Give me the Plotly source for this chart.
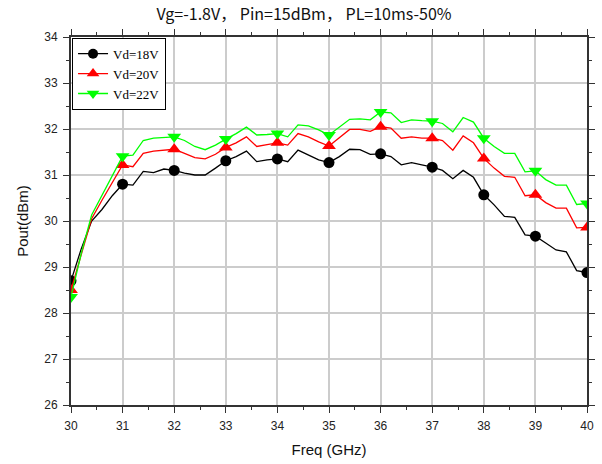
import plotly.graph_objects as go

freq = [round(30 + 0.2 * i, 1) for i in range(51)]

pout_18v = [28.70, 29.40, 30.00, 30.25, 30.55, 30.80, 30.78, 31.08, 31.05, 31.13,
            31.10, 31.04, 31.00, 31.00, 31.15, 31.31, 31.40, 31.52, 31.29, 31.33,
            31.35, 31.29, 31.54, 31.43, 31.33, 31.27, 31.40, 31.56, 31.55, 31.45,
            31.46, 31.40, 31.22, 31.27, 31.22, 31.17, 31.10, 30.92, 31.10, 30.95,
            30.57, 30.35, 30.10, 30.08, 29.70, 29.67, 29.52, 29.37, 29.33, 28.92,
            28.88]

pout_20v = [28.50, 29.30, 30.05, 30.45, 30.85, 31.22, 31.18, 31.47, 31.52, 31.54,
            31.56, 31.47, 31.38, 31.35, 31.45, 31.60, 31.70, 31.83, 31.62, 31.66,
            31.70, 31.65, 31.90, 31.83, 31.72, 31.63, 31.80, 31.99, 31.99, 31.95,
            32.05, 32.02, 31.80, 31.83, 31.80, 31.80, 31.75, 31.54, 31.85, 31.70,
            31.36, 31.15, 30.97, 30.95, 30.55, 30.57, 30.40, 30.28, 30.28, 29.85,
            29.86]

pout_22v = [28.35, 29.30, 30.13, 30.55, 31.00, 31.41, 31.43, 31.75, 31.80, 31.82,
            31.83, 31.75, 31.62, 31.55, 31.65, 31.78, 31.90, 32.04, 31.87, 31.88,
            31.90, 31.83, 32.09, 32.07, 31.98, 31.87, 32.05, 32.21, 32.22, 32.20,
            32.37, 32.35, 32.14, 32.20, 32.18, 32.17, 32.12, 31.94, 32.25, 32.15,
            31.80, 31.62, 31.47, 31.47, 31.07, 31.09, 30.90, 30.78, 30.78, 30.36,
            30.38]

series_names = ["Vd=18V", "Vd=20V", "Vd=22V"]
x_ticks = list(range(30, 41))
y_ticks = list(range(26, 35))

title_text = "Vg=-1.8V， Pin=15dBm， PL=10ms-50%"

styles = [
    dict(color="#000000", symbol="circle", size=11),
    dict(color="#ff0000", symbol="triangle-up", size=12),
    dict(color="#00ff00", symbol="triangle-down", size=12),
]

fig = go.Figure()
for name, ys, st in zip(series_names, [pout_18v, pout_20v, pout_22v], styles):
    sizes = [st["size"] if abs(f - round(f)) < 1e-6 else 0 for f in freq]
    fig.add_trace(go.Scatter(
        x=freq, y=ys, name=name, mode="lines+markers", showlegend=False,
        legendgroup=name,
        line=dict(color=st["color"], width=1.3),
        marker=dict(color=st["color"], symbol=st["symbol"], size=sizes,
                    opacity=1, line=dict(width=0)),
    ))
    # legend entry
    fig.add_trace(go.Scatter(
        x=[None], y=[None], name=name, mode="lines+markers", legendgroup=name,
        line=dict(color=st["color"], width=1.3),
        marker=dict(color=st["color"], symbol=st["symbol"], size=st["size"] - 1,
                    opacity=1, line=dict(width=0)),
    ))

tick_font = dict(family="Liberation Sans, Arial", size=12, color="#222222")
title_font = dict(family="Liberation Sans, Arial", size=15, color="#111111")
minor_cfg = dict(ticks="outside", ticklen=3, tickcolor="#333333", showgrid=False, dtick=0.5)

axis_common = dict(
    showline=True, linecolor="#333333", linewidth=2, mirror="allticks",
    ticks="outside", ticklen=6, tickwidth=1.2, tickcolor="#333333",
    showgrid=True, gridcolor="#cccccc", gridwidth=1.5,
    zeroline=False, tickfont=tick_font, minor=minor_cfg, automargin=False,
)

fig.update_layout(
    width=602, height=464,
    margin=dict(l=71, r=15, t=37, b=59),
    paper_bgcolor="white", plot_bgcolor="white",
    title=dict(text=title_text, x=0.505, xanchor="center", y=0.97, yanchor="middle",
               font=dict(family="Noto Sans CJK SC, Noto Sans", size=16, color="#111111")),
    xaxis=dict(range=[30, 40], tickvals=x_ticks, ticklabelstandoff=3,
               title=dict(text="Freq (GHz)", standoff=12, font=title_font),
               **axis_common),
    yaxis=dict(range=[26, 34], tickvals=y_ticks, ticklabelstandoff=3,
               title=dict(text="Pout(dBm)", standoff=12, font=title_font),
               **axis_common),
    legend=dict(x=0.002, y=0.998, xanchor="left", yanchor="top",
                bgcolor="white", bordercolor="#000000", borderwidth=1,
                tracegroupgap=0,
                font=dict(family="Liberation Serif, Times New Roman", size=13, color="#000000")),
)

fig.write_html("out.html")
